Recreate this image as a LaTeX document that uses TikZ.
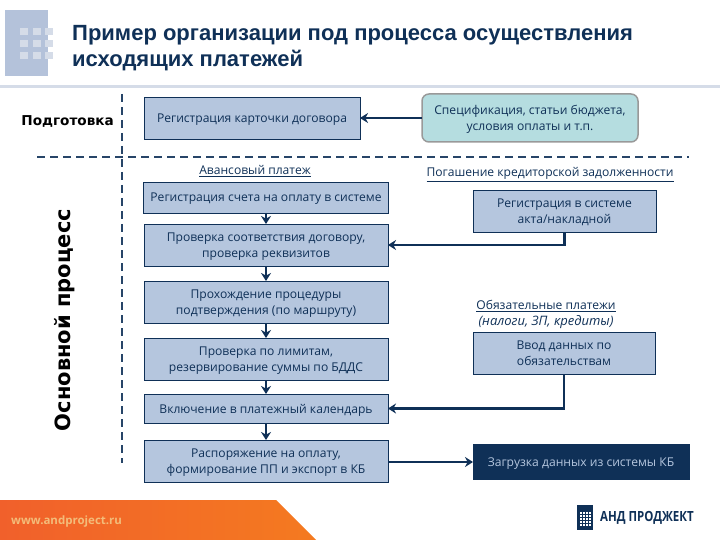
\documentclass[tikz,border=0pt]{standalone}
\usepackage{fontspec}
\usepackage{xcolor}
\setmainfont{Open Sans}
\newfontfamily\titlefont{Liberation Sans}
\newfontfamily\sidefont{DejaVu Sans}
\usetikzlibrary{arrows.meta}
\definecolor{navy}{HTML}{0F3057}
\definecolor{boxblue}{HTML}{B5C6DE}
\definecolor{boxteal}{HTML}{B5DDE0}
\definecolor{iconblue}{HTML}{B4C2DA}
\definecolor{icondot}{HTML}{D5DCE8}
\definecolor{bandleft}{HTML}{F1602B}
\definecolor{bandmid}{HTML}{F58220}
\definecolor{bandright}{HTML}{F47A20}
\definecolor{sitetext}{HTML}{F3BC7A}
\tikzset{
    procbox/.style={draw=navy, fill=boxblue, text=navy, line width=0.8pt, outer sep=0pt, inner sep=0pt, align=center, text depth=0pt, font=\fontsize{12.1}{16.5}\selectfont},
    headlabel/.style={text=navy, inner sep=0pt, align=center, text depth=0pt, font=\fontsize{12.1}{16}\selectfont},
    sidelabel/.style={text=black, inner sep=0pt, font=\sidefont\bfseries\fontsize{13.6}{16}\selectfont},
    flow/.style={draw=navy, line width=2.4pt, -{Stealth[length=8pt,width=10pt]}},
    divider/.style={draw=navy!90, line width=1.5pt, dash pattern=on 8pt off 5pt}
}
\begin{document}
\begin{tikzpicture}[x=1pt, y=-1pt]
    \useasboundingbox (0,0) rectangle (720,540);

    % header
    \fill[iconblue] (5,10) rectangle (48,76);
    \foreach \col in {20,33,45} {
        \foreach \row in {28,40,52} {
            \fill[icondot] (\col,\row) rectangle +(7.5,7);
        }
    }
    \node[anchor=west, inner sep=0pt, align=left, text=navy, font=\titlefont\bfseries\fontsize{22}{26}\selectfont] (title) at (72,48) {Пример организации под процесса осуществления\\исходящих платежей};
    \fill[icondot] (0,85) rectangle (720,88);

    % footer
    \shade[left color=bandleft, middle color=bandmid, right color=bandright] (0,500) -- (276,500) -- (316,540) -- (0,540) -- cycle;
    \node[anchor=west, inner sep=0pt, text=sitetext, font=\bfseries\fontsize{11.5}{12}\selectfont] (site) at (11,522) {www.andproject.ru};
    \fill[navy] (577,505) rectangle (593,530);
    \foreach \col in {580,583,586,589} {
        \foreach \row in {512,515,518,521,524} {
            \fill[white] (\col,\row) rectangle +(2,2);
        }
    }
    \node[anchor=west, inner sep=0pt, text=navy, xscale=0.82, font=\bfseries\fontsize{14}{16}\selectfont] (brand) at (600,518) {АНД ПРОДЖЕКТ};

    % dividers
    \draw[divider] (122,94) -- (122,463);
    \draw[divider] (37,157) -- (689,157);
    \node[sidelabel, anchor=east] (prep) at (114,121) {Подготовка};
    \node[sidelabel, rotate=90, font=\sidefont\bfseries\fontsize{21}{24}\selectfont] (main) at (65,320) {Основной процесс};

    % left column
    \node[procbox, minimum width=216pt, minimum height=42pt] (regcard) at (252,118) {Регистрация карточки договора};
    \node[headlabel] (advance) at (255,170) {\underline{Авансовый платеж}};
    \node[procbox, minimum width=245pt, minimum height=31pt] (reginvoice) at (266,197.5) {Регистрация счета на оплату в системе};
    \node[procbox, minimum width=244pt, minimum height=42pt] (checkdoc) at (266,245) {Проверка соответствия договору,\\проверка реквизитов};
    \node[procbox, minimum width=244pt, minimum height=42pt] (approve) at (266,302) {Прохождение процедуры\\подтверждения (по маршруту)};
    \node[procbox, minimum width=244pt, minimum height=42pt] (limits) at (266,359) {Проверка по лимитам,\\резервирование суммы по БДДС};
    \node[procbox, minimum width=244pt, minimum height=29pt] (calendar) at (266,408.5) {Включение в платежный календарь};
    \node[procbox, minimum width=244pt, minimum height=42pt] (order) at (266,461) {Распоряжение на оплату,\\формирование ПП и экспорт в КБ};

    % right column
    \node[procbox, draw=black!40, fill=boxteal, rounded corners=7pt, line width=1.5pt, minimum width=216pt, minimum height=48pt] (spec) at (530,118) {Спецификация, статьи бюджета,\\условия оплаты и т.п.};
    \node[headlabel] (repay) at (550,172) {\underline{Погашение кредиторской задолженности}};
    \node[procbox, minimum width=183pt, minimum height=42pt] (act) at (564.5,211) {Регистрация в системе\\акта/накладной};
    \node[headlabel] (mandatory) at (546,313) {\underline{Обязательные платежи}\\{\fontsize{13}{16}\selectfont\textit{(налоги, ЗП, кредиты)}}};
    \node[procbox, minimum width=182pt, minimum height=42pt] (duties) at (564,353) {Ввод данных по\\обязательствам};
    \node[procbox, fill=navy, text=boxblue, minimum width=216pt, minimum height=35pt] (bankload) at (581,462) {Загрузка данных из системы КБ};

    % connectors
    \draw[flow] (spec) -- (regcard);
    \draw[flow] (reginvoice) -- (checkdoc);
    \draw[flow] (checkdoc) -- (approve);
    \draw[flow] (approve) -- (limits);
    \draw[flow] (limits) -- (calendar);
    \draw[flow] (calendar) -- (order);
    \draw[flow] (act.south) |- (checkdoc.east);
    \draw[flow] (duties.south) |- (calendar.east);
    \draw[flow] (order.east |- bankload.west) -- (bankload.west);
\end{tikzpicture}
\end{document}
